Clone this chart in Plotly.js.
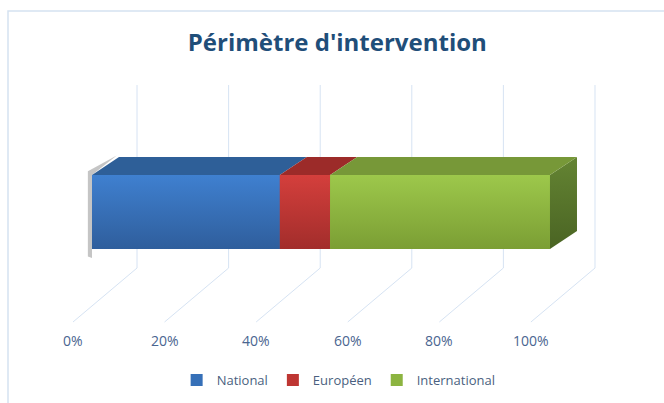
<!DOCTYPE html>
<html><head><meta charset="utf-8">
<script src="https://cdn.plot.ly/plotly-3.0.1.min.js"></script>
<style>html,body{margin:0;padding:0;background:#fff}#chart{width:664px;height:403px}</style>
</head><body><div id="chart"></div>
<script>
// ---- data ----
const seriesNames = ['National', 'Européen', 'International'];
const seriesValues = [41, 11, 48];
const tickValues = [0, 20, 40, 60, 80, 100];
const tickLabels = ['0%', '20%', '40%', '60%', '80%', '100%'];
const chartTitle = "Périmètre d'intervention";

// ---- styles ----
const frontTop = ['#3f80d0', '#d43f3c', '#9dc84b'];
const frontBot = ['#2f5e9c', '#a22d2b', '#7b9e34'];
const frontMid = ['#3670b8', '#be3633', '#8cb440'];
const topFace = ['#2e5f98', '#9c2b29', '#779838'];
const sideTop = '#648433', sideBot = '#4a6423';
const gridColor = '#d6e3f3';

// geometry (axis units)
const BAR_Y = 0, HALF = 0.5;
const DX = 5.9, DY = 0.243;          // bar depth offset
const WALL_DX = 9.83, FLOOR_DX = -4.15;
const WALL_TOP = 1.716, WALL_BOT = -0.757, FLOOR_FRONT = -1.486, LABEL_Y = -1.73;

const traces = [];
const shapes = [];
const annotations = [];

let cum = 0;
const starts = [], ends = [];
seriesValues.forEach((v, i) => { starts.push(cum); cum += v; ends.push(cum); });

seriesNames.forEach((n, i) => {
  traces.push({type: 'bar', orientation: 'h', name: n, x: [seriesValues[i]], y: [BAR_Y], width: 2 * HALF,
    marker: {color: frontMid[i], line: {width: 0}}, hoverinfo: 'x+name'});
});
seriesNames.forEach((n, i) => {
  const c0 = starts[i], c1 = ends[i];
  traces.push({type: 'scatter', mode: 'lines', showlegend: false, hoverinfo: 'skip',
    x: [c0, c1, c1, c0, c0], y: [BAR_Y - HALF, BAR_Y - HALF, BAR_Y + HALF, BAR_Y + HALF, BAR_Y - HALF],
    line: {width: 0}, fill: 'toself', fillcolor: frontMid[i],
    fillgradient: {type: 'vertical', colorscale: [[0, frontBot[i]], [1, frontTop[i]]]}});
  shapes.push({type: 'path', layer: 'above', line: {width: 0}, fillcolor: topFace[i],
    path: `M ${c0} ${BAR_Y + HALF} L ${c1} ${BAR_Y + HALF} L ${c1 + DX} ${BAR_Y + HALF + DY} L ${c0 + DX} ${BAR_Y + HALF + DY} Z`});
});
// right side face
const tot = cum;
traces.push({type: 'scatter', mode: 'lines', showlegend: false, hoverinfo: 'skip',
  x: [tot, tot + DX, tot + DX, tot, tot],
  y: [BAR_Y - HALF, BAR_Y - HALF + DY, BAR_Y + HALF + DY, BAR_Y + HALF, BAR_Y - HALF],
  line: {width: 0}, fill: 'toself', fillcolor: sideTop,
  fillgradient: {type: 'vertical', colorscale: [[0, sideBot], [1, sideTop]]}});

// soft shadow at the left edge
shapes.push({type: 'path', layer: 'below', line: {width: 0}, fillcolor: 'rgba(90,90,90,0.35)',
  path: `M 0 ${BAR_Y - HALF - 0.12} L -0.9 ${BAR_Y - HALF - 0.1} L -0.9 ${BAR_Y + HALF + 0.05} L ${DX - 0.5} ${BAR_Y + HALF + DY + 0.02} L 0 ${BAR_Y + HALF} Z`});

// back wall and floor gridlines
tickValues.forEach((t, i) => {
  shapes.push({type: 'line', layer: 'below', x0: t + WALL_DX, x1: t + WALL_DX, y0: WALL_TOP, y1: WALL_BOT,
    line: {color: gridColor, width: 1}});
  shapes.push({type: 'line', layer: 'below', x0: t + WALL_DX, x1: t + FLOOR_DX, y0: WALL_BOT, y1: FLOOR_FRONT,
    line: {color: gridColor, width: 1}});
  annotations.push({x: t + FLOOR_DX, y: LABEL_Y, text: tickLabels[i], showarrow: false,
    xanchor: 'center', yanchor: 'middle', font: {family: 'Open Sans', size: 14, color: '#4a6590'}});
});

// chart border
shapes.push({type: 'rect', xref: 'paper', yref: 'paper', x0: 8 / 664, x1: 1.02, y0: 1 - 11 / 403, y1: -0.02,
  line: {color: '#d5e2f1', width: 1.5}, fillcolor: 'rgba(0,0,0,0)', layer: 'below'});

const layout = {
  width: 664, height: 403,
  margin: {l: 0, r: 0, t: 0, b: 0},
  paper_bgcolor: '#ffffff', plot_bgcolor: 'rgba(0,0,0,0)',
  barmode: 'stack',
  title: {text: '<b>' + chartTitle + '</b>', x: 0.508, xanchor: 'center', y: 1 - 43 / 403, yanchor: 'middle',
    font: {family: 'Open Sans', size: 24, color: '#1f4e79'}},
  xaxis: {range: [-20.09, 124.9], visible: false, fixedrange: true},
  yaxis: {range: [-2.581, 2.865], visible: false, fixedrange: true},
  showlegend: true,
  legend: {orientation: 'h', x: 0.51, xanchor: 'center', y: 1 - 380 / 403, yanchor: 'middle',
    font: {family: 'Open Sans', size: 13, color: '#4a5f80'}, itemwidth: 30, traceorder: 'normal'},
  shapes: shapes, annotations: annotations
};
Plotly.newPlot('chart', traces, layout, {displayModeBar: false, staticPlot: true});
</script></body></html>
